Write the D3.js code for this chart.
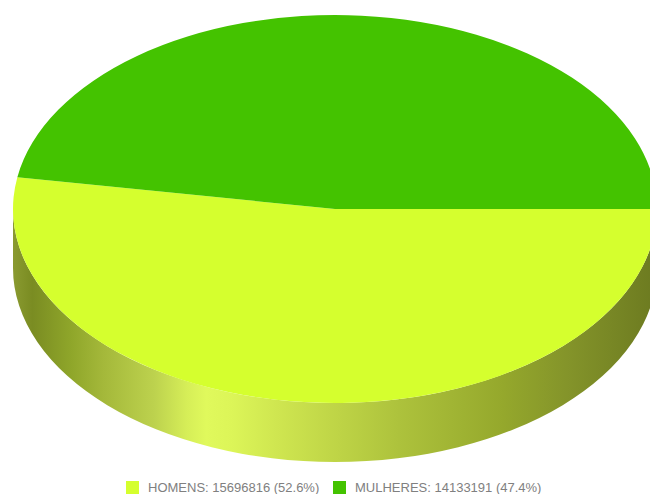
<!DOCTYPE html>
<html>
<head>
<meta charset="utf-8">
<script src="https://cdn.jsdelivr.net/npm/d3@7"></script>
<style>
html, body { margin: 0; padding: 0; background: #fff; overflow: hidden; }
svg { display: block; }
text { font-family: "Liberation Sans", Arial, sans-serif; }
</style>
</head>
<body>
<svg id="chart" width="650" height="494"></svg>
<script>
// Population split by sex
const categories = ["HOMENS", "MULHERES"];
const values = [15696816, 14133191];
const percentLabels = ["52.6%", "47.4%"];
const sliceColors = ["#d5ff2e", "#44c300"];

// Shading of the disc's outer wall, left to right
const wallStops = [0, 0.03, 0.09, 0.14, 0.22, 0.27, 0.3, 0.34, 0.41, 0.6, 0.76, 0.86, 1];
const wallColors = ["#8a9a30", "#7a8c22", "#8fa62a", "#a4b83a", "#bdd24e", "#d6ee58", "#e0f95c", "#dcf558", "#cfe650", "#adc23c", "#95a82c", "#84942a", "#6c7a20"];

const width = 650, height = 494;
const cx = 335, cy = 209, rx = 322, ry = 194, depth = 59;

const svg = d3.select("#chart");
const defs = svg.append("defs");

const grad = defs.append("linearGradient")
  .attr("id", "wall")
  .attr("gradientUnits", "userSpaceOnUse")
  .attr("x1", cx - rx).attr("x2", cx + rx)
  .attr("y1", 0).attr("y2", 0);
grad.selectAll("stop").data(wallStops).join("stop")
  .attr("offset", d => d)
  .attr("stop-color", (d, i) => wallColors[i]);

// Pie laid out as a unit circle, starting at 3 o'clock and running clockwise
const pie = d3.pie().sort(null)
  .startAngle(Math.PI / 2)
  .endAngle(Math.PI / 2 + 2 * Math.PI);
const arcs = pie(values);
const arc = d3.arc().innerRadius(0).outerRadius(rx);
const squash = ry / rx;

// Front wall: the lower half of the rim, swept down by the disc's thickness
const wallPath = `M${cx - rx},${cy} L${cx - rx},${cy + depth} ` +
  `A${rx},${ry} 0 0 0 ${cx + rx},${cy + depth} L${cx + rx},${cy} ` +
  `A${rx},${ry} 0 0 1 ${cx - rx},${cy} Z`;
svg.append("path").attr("d", wallPath).attr("fill", "url(#wall)");

// Top face
svg.append("g")
  .attr("transform", `translate(${cx},${cy}) scale(1,${squash})`)
  .selectAll("path").data(arcs).join("path")
  .attr("d", arc)
  .attr("fill", (d, i) => sliceColors[i]);

// Legend
const legendItems = categories.map((c, i) => ({
  swatch: sliceColors[i],
  label: `${c}: ${values[i]} (${percentLabels[i]})`
}));
const legendX = d3.scaleOrdinal().domain(categories).range([126, 333]);
const legend = svg.append("g").selectAll("g").data(legendItems).join("g")
  .attr("transform", (d, i) => `translate(${legendX(categories[i])},481)`);
legend.append("rect")
  .attr("width", 13).attr("height", 13)
  .attr("fill", d => d.swatch);
legend.append("text")
  .attr("x", 22)
  .attr("y", 11)
  .attr("font-size", 13)
  .attr("fill", "#808080")
  .text(d => d.label);
</script>
</body>
</html>
